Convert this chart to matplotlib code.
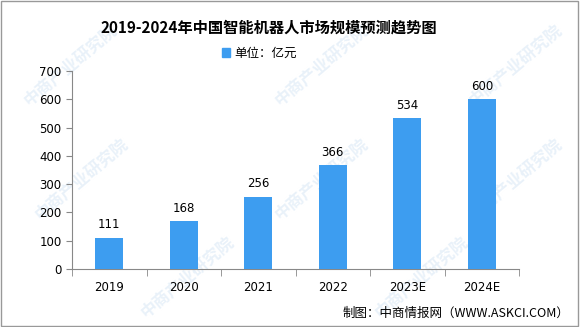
import matplotlib.pyplot as plt
import numpy as np
from matplotlib.patches import Rectangle

plt.rcParams['font.family'] = ['Noto Sans CJK SC', 'DejaVu Sans']

years = ['2019', '2020', '2021', '2022', '2023E', '2024E']
market_size = [111, 168, 256, 366, 534, 600]

bar_color = '#3d9df0'
axis_color = '#888888'

fig = plt.figure(figsize=(5.86, 3.27), dpi=100)
ax = fig.add_axes([0.1229, 0.1774, 0.7628, 0.6055])

# faint watermark, kept underneath the axes
for wx, wy in [(0.12, 0.80), (0.55, 0.80), (0.88, 0.80), (0.14, 0.45), (0.55, 0.45),
               (0.88, 0.45), (0.32, 0.15), (0.72, 0.15)]:
    fig.text(wx, wy, '中商产业研究院', fontsize=12, color='#dbe9f6', alpha=0.6,
             rotation=40, ha='center', va='center', fontweight='bold', zorder=-5)

x = np.arange(len(years))
ax.bar(x, market_size, width=0.38, color=bar_color, zorder=3)
for xi, v in zip(x, market_size):
    ax.text(xi, v + 22, str(v), ha='center', va='bottom', fontsize=8.5,
            family='DejaVu Sans')

ax.set_xlim(-0.5, 5.5)
ax.set_ylim(0, 700)
ax.set_yticks(range(0, 701, 100))
ax.set_xticks(x)
ax.set_xticklabels(years, fontsize=8.5, family='DejaVu Sans')
ax.set_xticks(np.arange(-0.5, 6, 1), minor=True)
ax.tick_params(axis='x', which='major', length=0, pad=9)
ax.tick_params(axis='x', which='minor', length=5, color=axis_color)
ax.tick_params(axis='y', length=4, color=axis_color, labelsize=8.5)
for lbl in ax.get_yticklabels():
    lbl.set_family('DejaVu Sans')

ax.patch.set_alpha(0)
for s in ['top', 'right']:
    ax.spines[s].set_visible(False)
for s in ['left', 'bottom']:
    ax.spines[s].set_color(axis_color)

fig.text(0.459, 0.917, '2019-2024年中国智能机器人市场规模预测趋势图', ha='center', va='center',
         fontsize=11, fontweight='bold')
fig.patches.append(Rectangle((0.379, 0.825), 0.014, 0.027, transform=fig.transFigure,
                             color=bar_color, figure=fig))
fig.text(0.399, 0.838, '单位：亿元', ha='left', va='center', fontsize=9)
fig.text(0.972, 0.043, '制图：中商情报网（WWW.ASKCI.COM）', ha='right', va='center',
         fontsize=9)

# outer frame
fig.patches.append(Rectangle((0.002, 0.004), 0.984, 0.993, transform=fig.transFigure,
                             fill=False, edgecolor='#999999', linewidth=1, figure=fig))

fig.savefig('out.png', dpi=100)
